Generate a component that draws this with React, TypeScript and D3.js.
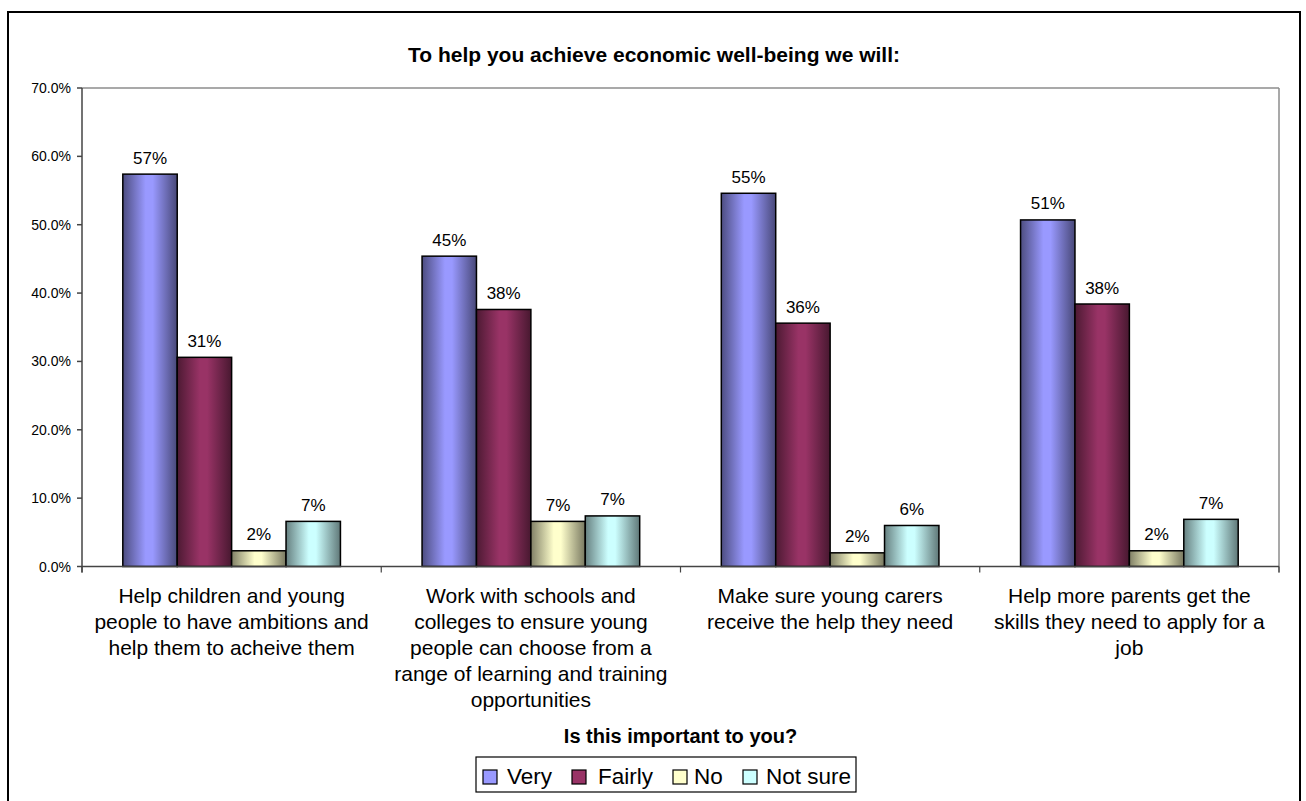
import React from "react";
import * as d3 from "d3";

const categories: string[][] = [
  ["Help children and young", "people to have ambitions and", "help them to acheive them"],
  ["Work with schools and", "colleges to ensure young", "people can choose from a", "range of learning and training", "opportunities"],
  ["Make sure young carers", "receive the help they need"],
  ["Help more parents get the", "skills they need to apply for a", "job"],
];
const seriesNames = ["Very", "Fairly", "No", "Not sure"];
const very = [57.4, 45.4, 54.6, 50.7];
const fairly = [30.6, 37.6, 35.6, 38.4];
const no = [2.3, 6.6, 2.0, 2.3];
const notSure = [6.6, 7.4, 6.0, 6.9];
const labelVery = ["57%", "45%", "55%", "51%"];
const labelFairly = ["31%", "38%", "36%", "38%"];
const labelNo = ["2%", "7%", "2%", "2%"];
const labelNotSure = ["7%", "7%", "6%", "7%"];
const yTicks = [0, 10, 20, 30, 40, 50, 60, 70];
const colors = ["#9999FF", "#993366", "#FFFFCC", "#CCFFFF"];

const title = "To help you achieve economic well-being we will:";
const axisTitle = "Is this important to you?";

const FONT = "'Liberation Sans', Arial, Helvetica, sans-serif";

export default function App() {
  const W = 1306, H = 801;
  const plot = { left: 82, right: 1279, top: 88, bottom: 566.5 };
  const values = [very, fairly, no, notSure];
  const labels = [labelVery, labelFairly, labelNo, labelNotSure];

  const x0 = d3.scaleBand<number>().domain(d3.range(categories.length)).range([plot.left, plot.right]).padding(0);
  const bw = x0.bandwidth();
  const gap = bw * 1.5 / 5.5;
  const x1 = d3.scaleBand<number>().domain(d3.range(seriesNames.length)).range([gap / 2, bw - gap / 2]).padding(0);
  const y = d3.scaleLinear().domain([0, 70]).range([plot.bottom, plot.top]);
  const fmt = d3.format(".1f");

  const dark = (c: string, k: number) => {
    const col = d3.rgb(c);
    return d3.rgb(col.r * k, col.g * k, col.b * k).formatHex();
  };

  const legendItems = [
    { sq: 483, tx: 507 },
    { sq: 572, tx: 598 },
    { sq: 673, tx: 694 },
    { sq: 743, tx: 766 },
  ];

  return (
    <div style={{ position: "absolute", left: 0, top: 0 }}>
      <svg width={W} height={H} style={{ display: "block", background: "#fff" }} fontFamily={FONT}>
        <defs>
          {colors.map((c, i) => (
            <linearGradient key={i} id={`g${i}`} x1="0" x2="1" y1="0" y2="0">
              <stop offset="0" stopColor={dark(c, 0.5)} />
              <stop offset="0.42" stopColor={c} />
              <stop offset="0.55" stopColor={c} />
              <stop offset="1" stopColor={dark(c, 0.47)} />
            </linearGradient>
          ))}
        </defs>
        <rect x={8} y={12} width={1292} height={H + 20} fill="#fff" stroke="#000" strokeWidth={2} />
        <text x={654} y={62} textAnchor="middle" fontSize={21} fontWeight="bold" fill="#000">{title}</text>

        {/* plot border (gray) */}
        <line x1={plot.left} x2={plot.right} y1={plot.top} y2={plot.top} stroke="#8c8c8c" strokeWidth={1.5} />
        <line x1={plot.right} x2={plot.right} y1={plot.top} y2={plot.bottom + 6} stroke="#8c8c8c" strokeWidth={1.5} />

        {/* y axis */}
        <line x1={plot.left} x2={plot.left} y1={plot.top} y2={plot.bottom + 6} stroke="#444" strokeWidth={1.5} />
        {yTicks.map((t) => (
          <g key={t}>
            <line x1={plot.left - 5} x2={plot.left} y1={y(t)} y2={y(t)} stroke="#444" strokeWidth={1.5} />
            <text x={71} y={y(t) + 5} textAnchor="end" fontSize={14} fill="#000">{fmt(t)}%</text>
          </g>
        ))}

        {/* bars */}
        {categories.map((_, ci) => (
          <g key={ci} transform={`translate(${x0(ci)},0)`}>
            {values.map((s, si) => (
              <g key={si}>
                <rect x={x1(si)} y={y(s[ci])} width={x1.bandwidth()} height={y(0) - y(s[ci])}
                  fill={`url(#g${si})`} stroke="#000" strokeWidth={1.5} />
                <text x={(x1(si) as number) + x1.bandwidth() / 2} y={y(s[ci]) - 10.5} textAnchor="middle" fontSize={17} fill="#000">
                  {labels[si][ci]}
                </text>
              </g>
            ))}
          </g>
        ))}

        {/* x axis */}
        <line x1={plot.left} x2={plot.right} y1={plot.bottom} y2={plot.bottom} stroke="#444" strokeWidth={1.5} />
        {d3.range(categories.length + 1).map((i) => {
          const xx = plot.left + i * bw;
          return <line key={i} x1={xx} x2={xx} y1={plot.bottom} y2={plot.bottom + 6} stroke="#444" strokeWidth={1.2} />;
        })}
        {categories.map((lines, ci) => (
          <text key={ci} textAnchor="middle" fontSize={21} fill="#000">
            {lines.map((ln, li) => (
              <tspan key={li} x={(x0(ci) as number) + bw / 2} y={603 + li * 26}>{ln}</tspan>
            ))}
          </text>
        ))}

        <text x={(plot.left + plot.right) / 2} y={743} textAnchor="middle" fontSize={20} fontWeight="bold" fill="#000">{axisTitle}</text>

        {/* legend */}
        <rect x={476} y={757} width={380} height={35} fill="#fff" stroke="#000" strokeWidth={1.2} />
        {seriesNames.map((n, i) => (
          <g key={n}>
            <rect x={legendItems[i].sq} y={770} width={14} height={14} fill={colors[i]} stroke="#000" strokeWidth={1.2} />
            <text x={legendItems[i].tx} y={784} fontSize={22.5} fill="#000">{n}</text>
          </g>
        ))}
      </svg>
    </div>
  );
}
